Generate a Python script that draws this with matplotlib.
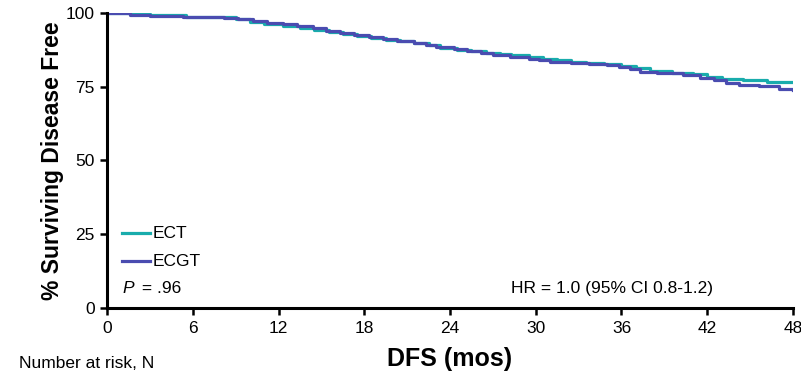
import matplotlib
matplotlib.use("Agg")
import matplotlib.pyplot as plt

# Kaplan-Meier style step data (months, % disease free)
ect_t = [0, 1.8, 3.0, 5.5, 8.0, 9.0, 10.0, 11.0, 12.3, 13.5, 14.5, 15.5, 16.5, 17.5,
         18.5, 19.5, 20.5, 21.5, 22.5, 23.3, 24.5, 25.5, 26.5, 27.5, 28.3, 29.5, 30.5,
         31.5, 32.5, 33.5, 34.8, 36.0, 37.0, 38.0, 39.5, 41.0, 42.0, 43.0, 44.5, 46.2, 48]
ect_s = [100, 99.5, 99.2, 98.8, 98.5, 97.8, 97.1, 96.3, 95.6, 95.0, 94.2, 93.5, 92.8, 92.2,
         91.6, 91.0, 90.4, 89.8, 89.0, 88.3, 87.6, 87.0, 86.5, 86.0, 85.6, 85.2, 84.5,
         84.0, 83.5, 83.0, 82.7, 82.0, 81.2, 80.5, 79.7, 79.2, 78.4, 77.6, 77.2, 76.6, 76.6]

ecgt_t = [0, 1.6, 3.0, 5.3, 8.2, 9.2, 10.2, 11.2, 12.3, 13.3, 14.4, 15.3, 16.3, 17.3,
          18.3, 19.3, 20.3, 21.5, 22.3, 23.0, 24.3, 25.2, 26.2, 27.0, 28.2, 29.5, 30.2,
          31.0, 32.5, 33.7, 35.0, 35.8, 36.6, 37.3, 38.5, 40.3, 41.5, 42.5, 43.3, 44.2,
          45.6, 47.0, 48]
ecgt_s = [100, 99.4, 98.9, 98.6, 98.3, 97.8, 97.3, 96.7, 96.1, 95.5, 94.8, 94.0, 93.3, 92.6,
          91.9, 91.3, 90.6, 89.9, 89.3, 88.6, 87.9, 87.2, 86.5, 85.8, 85.2, 84.5, 84.0,
          83.4, 83.0, 82.7, 82.3, 81.6, 80.9, 80.1, 79.5, 78.9, 78.0, 77.2, 76.2, 75.6,
          75.2, 74.3, 74.0]

x_ticks = [0, 6, 12, 18, 24, 30, 36, 42, 48]
y_ticks = [0, 25, 50, 75, 100]

plt.rcParams["font.family"] = ["Liberation Sans", "DejaVu Sans"]

fig = plt.figure(figsize=(8.01, 3.82), dpi=100)
ax = fig.add_axes([0.1336, 0.1937, 0.8564, 0.7723])

ax.step(ect_t, ect_s, where="post", color="#19acac", lw=2.3, label="ECT")
ax.step(ecgt_t, ecgt_s, where="post", color="#4a4cb0", lw=2.3, label="ECGT")

ax.set_xlim(0, 48)
ax.set_ylim(0, 100)
ax.set_xticks(x_ticks)
ax.set_yticks(y_ticks)
ax.tick_params(axis="both", width=1.8, length=5, labelsize=12.5, pad=4)
for side in ["top", "right"]:
    ax.spines[side].set_visible(False)
for side in ["left", "bottom"]:
    ax.spines[side].set_linewidth(2.2)

ax.set_ylabel("% Surviving Disease Free", fontsize=16.5, fontweight="bold", labelpad=1)
ax.set_xlabel("DFS (mos)", fontsize=18, fontweight="bold", labelpad=8)

# legend drawn as lines + labels
ax.plot([1.05, 3.0], [25.3, 25.3], color="#19acac", lw=2.3)
ax.text(3.2, 25.3, "ECT", fontsize=12.5, va="center")
ax.plot([1.05, 3.0], [15.8, 15.8], color="#4a4cb0", lw=2.3)
ax.text(3.2, 15.8, "ECGT", fontsize=12.5, va="center")

ax.text(1.1, 6.5, "P", fontsize=12.5, style="italic", va="center")
ax.text(2.1, 6.5, " = .96", fontsize=12.5, va="center")
ax.text(42.4, 6.5, "HR = 1.0 (95% CI 0.8-1.2)", fontsize=12.5, va="center", ha="right")

fig.text(0.024, 0.048, "Number at risk, N", fontsize=12.5, va="center")

fig.savefig("out.png", dpi=100)
